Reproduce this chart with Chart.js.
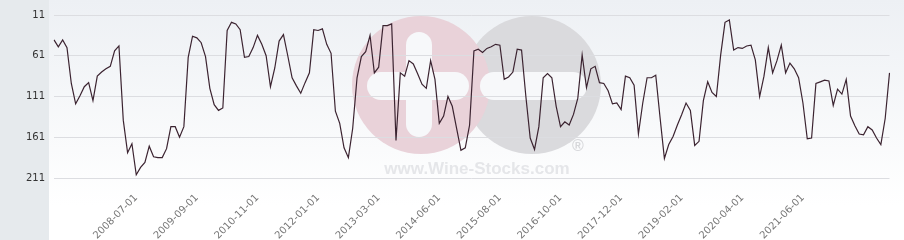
<!DOCTYPE html>
<html lang="en">
<head>
    <meta charset="UTF-8">
    <title>Wine-Stocks</title>
    <script src="https://cdn.jsdelivr.net/npm/chart.js"></script>
    <style>
        * {
            margin: 0;
            padding: 0;
            box-sizing: border-box;
        }
        body {
            background: #ffffff;
        }
        .chart-container {
            position: relative;
            width: 904px;
            height: 240px;
        }
    </style>
</head>
<body>
    <div class="chart-container">
        <canvas id="myChart"></canvas>
    </div>
    <script>
        // monthly values, one per point (reversed axis: small = top)
        var values = [
            41.5, 50, 41.5, 51, 95, 120, 110, 99, 94, 116, 86, 81, 77, 74, 55, 49, 140, 180, 169, 207,
            198, 192, 172, 185, 186, 186, 175, 148, 148, 161, 148, 63, 37,
            39, 45, 62, 101, 121, 128, 125, 30, 20, 22, 29, 63, 62, 51, 36, 47, 61, 99, 76, 43,
            35, 61, 88, 98, 107, 94, 82, 29, 30, 28, 47, 58,
            129, 144, 174, 186, 150, 88, 62, 56, 36, 82, 75, 24, 24, 22, 165, 82, 86, 67, 71, 83,
            96, 101, 67, 90, 144, 135, 111, 123, 150, 177, 174, 146,
            55, 53, 57, 52, 50, 47, 48, 90, 87, 81, 53, 54, 111, 162, 176, 148, 88, 83, 88, 123,
            148, 142, 146, 133, 113, 60, 100, 77, 74, 94, 95, 104,
            120, 119, 127, 86, 88, 97, 157, 119, 88, 88, 85, 137, 187, 170, 160, 146, 133, 119, 128, 171,
            166, 116, 93, 106, 111, 60, 20, 17, 54, 51, 52, 49,
            48, 66, 111, 86, 51, 82, 67, 48, 82, 70, 77, 88, 119, 163, 162, 95, 93, 91, 92, 122,
            102, 108, 90, 135, 147, 157, 158, 148, 152, 162, 170, 138, 82
        ];

        // x tick labels, shown every 14 points starting at point 19
        var tickLabels = ['2008-07-01', '2009-09-01', '2010-11-01', '2012-01-01', '2013-03-01', '2014-06-01',
                          '2015-08-01', '2016-10-01', '2017-12-01', '2019-02-01', '2020-04-01', '2021-06-01'];
        var tickStart = 19;
        var tickStep = 14;

        var yTicks = [11, 61, 111, 161, 211];

        var labels = values.map(function (v, i) {
            var k = i - tickStart;
            if (k >= 0 && k % tickStep === 0 && k / tickStep < tickLabels.length) {
                return tickLabels[k / tickStep];
            }
            return '';
        });

        // backgrounds + watermark
        var backdrop = {
            id: 'backdrop',
            beforeDraw: function (chart) {
                var c = chart.ctx;
                var w = chart.width, h = chart.height;
                c.save();
                c.fillStyle = '#ffffff';
                c.fillRect(0, 0, w, h);
                var g = c.createLinearGradient(0, 0, 0, 205);
                g.addColorStop(0, '#edf0f4');
                g.addColorStop(1, '#ffffff');
                c.fillStyle = g;
                c.fillRect(49, 0, w - 49, 205);
                c.fillStyle = '#e6eaed';
                c.fillRect(0, 0, 49, h);

                // logo
                c.fillStyle = '#dadadd';
                c.beginPath();
                c.arc(532, 85, 69, 0, Math.PI * 2);
                c.fill();
                c.fillStyle = '#e9d2d9';
                c.beginPath();
                c.arc(421, 85, 69, 0, Math.PI * 2);
                c.fill();
                c.fillStyle = '#f7f8fa';
                c.beginPath();
                c.roundRect(406, 32, 26, 105, 13);
                c.fill();
                c.beginPath();
                c.roundRect(367, 72, 102, 28, 14);
                c.fill();
                c.beginPath();
                c.roundRect(480, 72, 107, 28, 14);
                c.fill();

                c.fillStyle = '#e5e6e9';
                c.font = 'bold 17px "Liberation Sans", Arial, sans-serif';
                c.textAlign = 'center';
                c.textBaseline = 'alphabetic';
                c.fillText('www.Wine-Stocks.com', 477, 174);
                c.fillStyle = '#d7d8db';
                c.font = 'bold 16px "Liberation Sans", Arial, sans-serif';
                c.fillText('®', 578, 151);
                c.restore();
            }
        };

        var ctx = document.getElementById('myChart').getContext('2d');
        var myChart = new Chart(ctx, {
            type: 'line',
            data: {
                labels: labels,
                datasets: [{
                    data: values,
                    borderColor: '#3b2330',
                    borderWidth: 1.2,
                    pointRadius: 0,
                    fill: false,
                    tension: 0
                }]
            },
            options: {
                responsive: true,
                maintainAspectRatio: false,
                animation: false,
                layout: {
                    padding: { top: 8, right: 7, bottom: 0, left: 0 }
                },
                plugins: {
                    legend: { display: false },
                    tooltip: { enabled: false }
                },
                scales: {
                    x: {
                        type: 'category',
                        offset: false,
                        grid: { display: false },
                        border: { display: false },
                        ticks: {
                            autoSkip: false,
                            minRotation: 45,
                            maxRotation: 45,
                            padding: 6,
                            color: '#777777',
                            font: { family: 'DejaVu Sans', size: 10 }
                        },
                        afterFit: function (scale) {
                            scale.height = 62;
                        }
                    },
                    y: {
                        reverse: true,
                        min: 11,
                        max: 211,
                        grid: {
                            color: '#dcdde1',
                            lineWidth: 1,
                            drawTicks: false
                        },
                        border: { display: false },
                        ticks: {
                            padding: 9,
                            color: '#333333',
                            font: { family: 'DejaVu Sans', size: 10 }
                        },
                        afterBuildTicks: function (scale) {
                            scale.ticks = yTicks.map(function (v) { return { value: v }; });
                        },
                        afterFit: function (scale) {
                            scale.width = 54;
                        }
                    }
                }
            },
            plugins: [backdrop]
        });
    </script>
</body>
</html>
